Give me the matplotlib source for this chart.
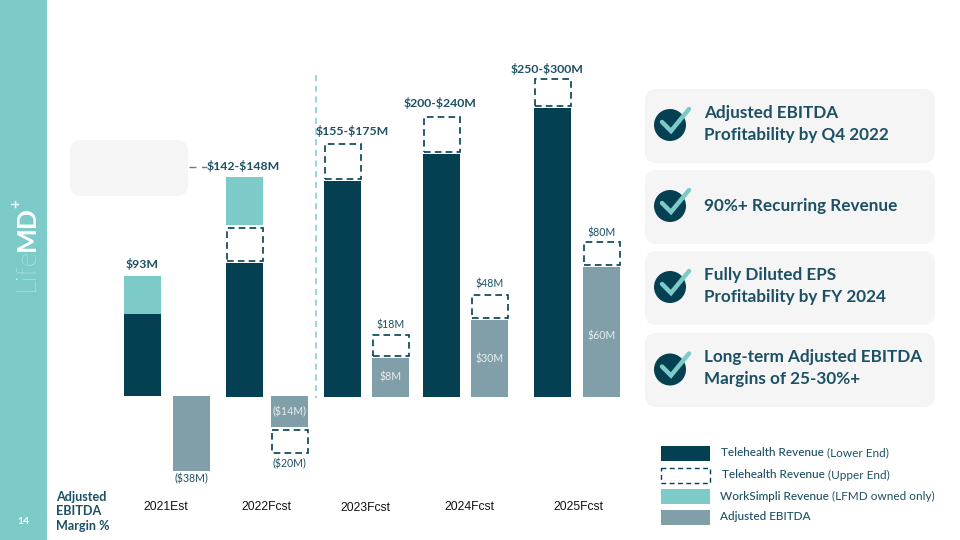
import matplotlib
matplotlib.use("Agg")
import matplotlib.pyplot as plt
from matplotlib.patches import FancyBboxPatch, Rectangle, Circle

DARK = "#053f52"; TEAL = "#7ccbc9"; GREY = "#819fa9"; PANEL = "#f5f5f5"; TXT = "#1c5064"

# Bars are not drawn to a common scale in the source; heights are read from the picture.
categories = ["2021Est", "2022Fcst", "2023Fcst", "2024Fcst", "2025Fcst"]
cat_label_x = [166, 266, 365, 469, 578]
cat_label_y = [507, 507, 508, 507, 507]
rev_x = [142.5, 244.5, 342.5, 441.5, 552.5]
ebitda_x = [191, 289.5, 390.5, 489.5, 601.5]
bar_w = 37

lower_end = [82.5, 134, 216, 243, 289]
lower_base = [0.5, -0.5, -0.5, 0, -0.5]
upper_end = [0, 33, 35, 35, 27]
workSimpli = [38, 48, 0, 0, 0]
ebitda_low = [-75, -31, 39, 77, 130]
ebitda_up = [0, -23, 21, 23, 23]

rev_labels = [r"\$93M", r"\$142-\$148M", r"\$155-\$175M", r"\$200-\$240M", r"\$250-\$300M"]
rev_label_xy = [(142, 264), (243, 166), (352, 131), (440, 103), (547, 69)]
ebitda_in = ["", r"(\$14M)", r"\$8M", r"\$30M", r"\$60M"]
ebitda_in_y = [0, 412, 377, 359, 336]
ebitda_out = [r"(\$38M)", r"(\$20M)", r"\$18M", r"\$48M", r"\$80M"]
ebitda_out_y = [479, 464, 325, 284, 233]

bullets = [["Adjusted EBITDA", "Profitability by Q4 2022"], ["90%+ Recurring Revenue"],
           ["Fully Diluted EPS", "Profitability by FY 2024"], ["Long-term Adjusted EBITDA", "Margins of 25-30%+"]]
panel_top = [89, 170, 251, 333]
legend_labels = [("Telehealth Revenue", " (Lower End)"), ("Telehealth Revenue", " (Upper End)"),
                 ("WorkSimpli Revenue", " (LFMD owned only)"), ("Adjusted EBITDA", "")]

plt.rcParams["font.family"] = ["Lato", "DejaVu Sans"]
fig = plt.figure(figsize=(9.6, 5.4), dpi=100)

# value axes: one unit = one pixel above the chart baseline
base_px = 396.5
ax = fig.add_axes([0, 0, 1, 1], zorder=2)
ax.set_xlim(0, 960); ax.set_ylim(base_px - 540, base_px); ax.axis("off"); ax.patch.set_alpha(0)

dash = dict(facecolor="white", edgecolor=DARK, linewidth=1.2, linestyle=(0, (4, 2.5)))
gap = 2
ax.bar(rev_x, lower_end, bar_w, bottom=lower_base, color=DARK)
for x, l, b, u, w in zip(rev_x, lower_end, lower_base, upper_end, workSimpli):
    top = l + b
    if u:
        ax.bar(x, u, bar_w - 1, bottom=top + gap, **dash)
        top += u + gap
    if w:
        ax.bar(x, w, bar_w, bottom=top + (3 if u else 0), color=TEAL)
for x, l, u in zip(ebitda_x, ebitda_low, ebitda_up):
    ax.bar(x, l, bar_w, bottom=-0.5 if l > 0 else 0.5, color=GREY)
    if u:
        s = 1 if u > 0 else -1
        ax.bar(x, u, bar_w - 1, bottom=l + s * 2, **dash)

# page furniture in pixel coordinates
pg = fig.add_axes([0, 0, 1, 1], zorder=1)
pg.set_xlim(0, 960); pg.set_ylim(540, 0); pg.axis("off")
tx = fig.add_axes([0, 0, 1, 1], zorder=3)
tx.set_xlim(0, 960); tx.set_ylim(540, 0); tx.axis("off"); tx.patch.set_alpha(0)

pg.add_patch(Rectangle((0, 0), 47, 540, color=TEAL, lw=0))
def panel(x, y, w, h, r=12):
    pg.add_patch(FancyBboxPatch((x + r, y + r), w - 2 * r, h - 2 * r, boxstyle=f"round,pad={r},rounding_size={r}",
                                fc=PANEL, ec="none"))
panel(70, 140, 118, 56)
tx.plot([189, 207], [166.5, 166.5], color="#777777", lw=1.0, ls=(0, (5, 4)))
tx.plot([315.5, 315.5], [75, 398], color=TEAL, lw=1.1, ls=(0, (4, 3)))

tx.text(26, 291, "Life", color="white", fontsize=20, rotation=90, ha="center", va="bottom", fontweight="light", alpha=.9)
tx.text(27, 251, "MD", color="white", fontsize=19, rotation=90, ha="center", va="bottom", fontweight="bold")
tx.text(16, 204, "+", color="white", fontsize=11, rotation=90, ha="center", va="center", fontweight="bold")
tx.text(23, 522, "14", color="white", fontsize=7.5, ha="center", va="center", fontweight="bold", alpha=.95)

for t, (x, y) in zip(rev_labels, rev_label_xy):
    tx.text(x, y, t, color=TXT, fontsize=8.8, ha="center", va="center", fontweight="bold")
for t, x, y in zip(ebitda_in, ebitda_x, ebitda_in_y):
    if t:
        tx.text(x, y, t, color="#e8eef0", fontsize=7.6, ha="center", va="center")
for t, x, y in zip(ebitda_out, ebitda_x, ebitda_out_y):
    tx.text(x, y, t, color=TXT, fontsize=7.6, ha="center", va="center")
for t, x, y in zip(categories, cat_label_x, cat_label_y):
    tx.text(x, y, t, color="#111111", fontsize=8.7, ha="center", va="center", family="Liberation Sans")
for t, y in zip(["Adjusted", "EBITDA", "Margin %"], [497, 511, 526]):
    tx.text(56, y, t, color=TXT, fontsize=9.1, ha="left", va="center", fontweight="bold")

for lines, top in zip(bullets, panel_top):
    panel(645, top, 290, 74)
    cy = top + 36 - (0 if top != 333 else -0.5)
    tx.add_patch(Circle((670, cy), 16, fc=DARK, ec="none"))
    tx.plot([662, 671, 689], [cy - 3, cy + 6, cy - 16], color=TEAL, lw=3.2, solid_capstyle="round", solid_joinstyle="miter")
    ys = [top + 24, top + 46] if len(lines) == 2 else [top + 36]
    for t, y in zip(lines, ys):
        tx.text(704, y, t, color=TXT, fontsize=12.3, ha="left", va="center", fontweight="bold")

# legend
leg_y = [453, 475, 496, 517]
styles = [dict(fc=DARK, ec="none"), dict(fc="white", ec=DARK, lw=1.0, ls=(0, (3.5, 2.5))), dict(fc=TEAL, ec="none"), dict(fc=GREY, ec="none")]
for (a, b), y, st, lx in zip(legend_labels, leg_y, styles, [721, 722, 720, 720]):
    tx.add_patch(Rectangle((661, y - 7.5), 49, 15, **st))
    t1 = tx.text(lx, y, a, color=TXT, fontsize=8.5, ha="left", va="center", fontweight="medium")
    if b:
        tx.annotate(b, xy=(1, 0.5), xycoords=t1, va="center", ha="left", color=TXT, fontsize=8.5)

fig.savefig("out.png", dpi=100)
